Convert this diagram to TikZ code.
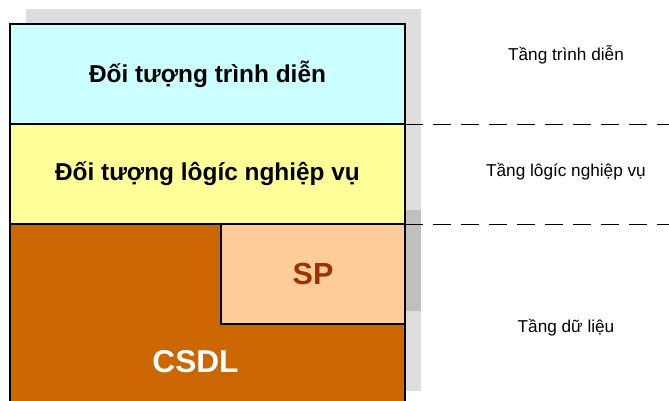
\documentclass[tikz,border=0pt]{standalone}
\usepackage{fontspec}
\setmainfont{Liberation Sans}
\usetikzlibrary{positioning}
\definecolor{presfill}{HTML}{CCFFFF}
\definecolor{logicfill}{HTML}{FFFF99}
\definecolor{datafill}{HTML}{CC6600}
\definecolor{spfill}{HTML}{FFCC99}
\definecolor{sptext}{HTML}{993300}

\begin{document}
\begin{tikzpicture}[x=1pt, y=-1pt,
layer/.style={rectangle, draw, line width=1.2pt, minimum width=395pt, minimum height=100pt,
      inner sep=0pt, outer sep=0pt, font=\fontsize{24.4}{27}\selectfont\bfseries},
tier/.style={inner sep=0pt, font=\fontsize{17.2}{20}\selectfont},
divider/.style={line width=0.9pt, dash pattern=on 18pt off 10pt},
shadowbox/.style={fill=black!13, draw=none}]
 \clip (0,0) rectangle (669,400);
 \fill[white] (0,0) rectangle (669,400);

 % shadow behind the stack
 \fill[shadowbox] (26,9) rectangle (421,391);
 \fill[black!25] (405,210) rectangle (421,311);

 \node[layer, fill=presfill] (pres) at (207.5,74) {Đối tượng trình diễn};
 \node[layer, fill=logicfill, below=0pt of pres] (logic) {Đối tượng lôgíc nghiệp vụ};
 \node[layer, fill=datafill, minimum height=190pt, below=0pt of logic] (data) {};
 \node[layer, fill=spfill, minimum width=184pt, anchor=north east, font=\fontsize{30.5}{33}\selectfont\bfseries,
       text=sptext] (sp) at (data.north east) {SP};
 \node[font=\fontsize{31.6}{34}\selectfont\bfseries, text=white] (csdl) at (195.5,362) {CSDL};

 \coordinate (presend) at (669,124);
 \coordinate (logicend) at (669,224);
 \draw[divider] (pres.south east) -- (presend);
 \draw[divider] (logic.south east) -- (logicend);

 \node[tier] (prestier) at (566,55) {Tầng trình diễn};
 \node[tier] (logictier) at (566,172) {Tầng lôgíc nghiệp vụ};
 \node[tier] (datatier) at (566,328) {Tầng dữ liệu};
\end{tikzpicture}
\end{document}
